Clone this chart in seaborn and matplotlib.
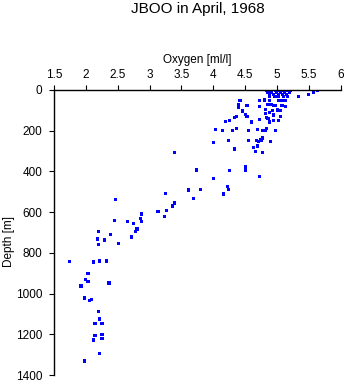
import matplotlib
matplotlib.use("Agg")
import matplotlib.pyplot as plt
import seaborn as sns
import pandas as pd

title = "JBOO in April, 1968"
xlabel = "Oxygen [ml/l]"
ylabel = "Depth [m]"
xticks = [1.5, 2, 2.5, 3, 3.5, 4, 4.5, 5, 5.5, 6]
xtick_labels = ["1.5", "2", "2.5", "3", "3.5", "4", "4.5", "5", "5.5", "6"]
yticks = [0, 200, 400, 600, 800, 1000, 1200, 1400]

# upper water column (0-550 m)
oxygen_upper = [4.83, 4.89, 4.98, 5.03, 5.09, 5.14, 5.19, 5.22,
                4.86, 4.92, 5.00, 5.06, 5.12, 5.20,
                4.88, 4.95, 5.02, 5.09, 5.15,
                4.89, 4.97, 5.03, 5.11, 5.17,
                5.64, 5.58, 5.49, 5.34,
                4.42, 4.73, 4.81, 4.88, 5.02, 5.08, 5.14,
                4.40, 4.39, 4.53, 4.72, 4.86, 4.91, 4.94, 4.97, 5.08, 5.14,
                4.46, 4.82, 4.93, 5.01, 5.06,
                4.82, 4.88, 4.51, 4.53, 4.36, 4.34, 4.95, 4.84, 5.06,
                4.19, 4.25, 4.60, 4.73, 4.86, 4.94, 5.02, 4.88,
                4.04, 4.14, 4.30, 4.36, 4.55, 4.69, 4.84, 4.82, 4.78, 4.98,
                4.77, 4.74, 4.68, 4.00, 4.24, 4.55, 4.75, 4.71, 4.90,
                4.34, 4.63, 4.69, 4.66, 4.77, 3.39,
                3.74, 4.25, 4.50, 4.50, 4.72, 4.00,
                4.22, 4.24, 3.80, 3.61, 3.25, 4.16, 3.69]
depth_upper = [0, 0, 0, 0, 0, 0, 0, 0,
               10, 10, 10, 10, 10, 10,
               20, 20, 20, 20, 20,
               30, 30, 30, 30, 30,
               0, 10, 22, 33,
               53, 51, 49, 53, 51, 51, 53,
               72, 88, 74, 79, 72, 72, 77, 77, 76, 79,
               103, 95, 100, 98, 100,
               115, 112, 120, 131, 128, 136, 123, 133, 129,
               156, 149, 157, 147, 142, 151, 152, 157,
               192, 201, 201, 189, 198, 196, 187, 200, 200, 201,
               236, 241, 246, 257, 249, 248, 248, 252, 255,
               290, 281, 275, 300, 305, 306,
               393, 396, 375, 393, 427, 436,
               474, 488, 490, 491, 509, 511, 535]

# deep water column (540-1350 m)
oxygen_deep = [2.46, 3.39, 3.36, 3.13, 3.27, 3.23, 2.87, 2.44, 2.85, 2.87,
               2.65, 2.74, 2.80, 2.77, 2.19, 2.39, 2.71, 2.18, 2.29, 2.51,
               2.20, 1.74, 2.11, 2.21, 2.32, 2.03, 1.99, 2.03, 2.36, 1.92,
               1.97, 2.05, 2.08, 2.20, 2.21, 2.14, 2.25, 2.14, 2.25, 2.11,
               2.25, 2.21, 1.97]
depth_deep = [540, 555, 570, 595, 594, 620, 609, 639, 630, 645,
              648, 655, 683, 693, 695, 712, 722, 732, 737, 752,
              758, 842, 845, 840, 840, 901, 933, 942, 948, 963,
              1022, 1033, 1027, 1089, 1125, 1149, 1145, 1205, 1200, 1228,
              1220, 1295, 1331]

df = pd.DataFrame({"oxygen": oxygen_upper + oxygen_deep,
                   "depth": depth_upper + depth_deep})

sns.set_style("white")
plt.rcParams["font.family"] = ["Liberation Sans", "DejaVu Sans"]

fig = plt.figure(figsize=(3.45, 3.84), dpi=100)
ax = fig.add_axes([54.3 / 345, 1 - 375 / 384, (340.5 - 54.3) / 345, (375 - 90) / 384])

sns.scatterplot(data=df, x="oxygen", y="depth", ax=ax, marker="s", s=5,
                color="#0000ff", edgecolor="none", linewidth=0)

ax.set_xlim(1.5, 6)
ax.set_ylim(1400, 0)
ax.set_xticks(xticks)
ax.set_xticklabels(xtick_labels)
ax.set_yticks(yticks)

ax.xaxis.tick_top()
ax.xaxis.set_label_position("top")
for side in ["right", "bottom"]:
    ax.spines[side].set_visible(False)
for side in ["left", "top"]:
    ax.spines[side].set_color("black")
    ax.spines[side].set_linewidth(1.0)

ax.tick_params(axis="both", which="major", direction="out", length=3.6, width=0.8,
               color="black", labelsize=8.5, labelcolor="black", pad=3)
ax.tick_params(axis="x", top=True, bottom=False)
ax.tick_params(axis="y", left=True, right=False, pad=5)

ax.set_xlabel(xlabel, fontsize=8.5, labelpad=4, color="black")
ax.set_ylabel(ylabel, fontsize=8.5, color="black", va="center")
ax.yaxis.set_label_coords(-0.16, 0.47)
ax.grid(False)

fig.text((54.3 + 340.5) / 2 / 345, 1 - 9 / 384, title, ha="center", va="center",
         fontsize=11, color="black")

fig.savefig("out.png", dpi=100)
